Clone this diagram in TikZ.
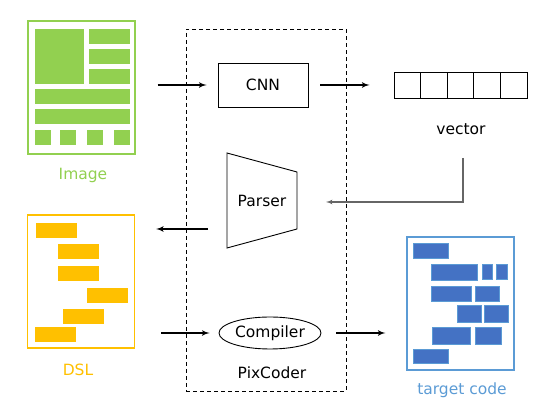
\documentclass[tikz,border=0pt]{standalone}
\usepackage{fontspec}
\setmainfont{DejaVu Sans}
\usetikzlibrary{arrows, shapes.geometric}
\definecolor{imggreen}{HTML}{92D050}
\definecolor{dslyellow}{HTML}{FFC000}
\definecolor{codeblue}{HTML}{4472C4}
\definecolor{codeframe}{HTML}{5B9BD5}

\begin{document}
\begin{tikzpicture}[x=1pt, y=-1pt, >=latex', font=\fontsize{15.5}{18}\selectfont]
  \tikzstyle{frame} = [draw, rectangle, line width=1.1pt, minimum width=107pt, minimum height=133pt, inner sep=0pt]
  \tikzstyle{block} = [draw, rectangle, line width=0.9pt, minimum width=90pt, minimum height=44pt]
  \tikzstyle{cell} = [draw, rectangle, line width=1pt, minimum width=26.6pt, minimum height=26pt, inner sep=0pt]
  \tikzstyle{codebar} = [fill=codeblue, draw=codeframe, line width=1pt]
  \tikzstyle{arr} = [->, line width=1.6pt]
  \tikzstyle{garr} = [->, line width=1.2pt, gray!80!black]
  \useasboundingbox (0,0) rectangle (542,411);

  % input screenshot
  \node [frame, draw=imggreen] (img) at (81.5,87.5) {};
  \foreach \xa/\ya/\xb/\yb in {35/29/84/84, 89/29/130/44, 89/49/130/64, 89/69/130/84,
      35/89/130/104, 35/109/130/124, 35/130/51/145, 60/130/76/145, 87/130/103/145, 114/130/130/145}
    \fill [imggreen] (\xa,\ya) rectangle (\xb,\yb);
  \node [text=imggreen] (imglabel) at (83,175) {Image};

  % dsl file
  \node [frame, draw=dslyellow] (dsl) at (81,281.5) {};
  \foreach \xa/\ya in {36/223, 58/244, 58/266, 87/288, 63/309, 35/327}
    \fill [dslyellow] (\xa,\ya) rectangle ++(41,15);
  \node [text=dslyellow] (dsllabel) at (78,370) {DSL};

  % generated code
  \node [frame, draw=codeframe] (code) at (460.5,303.5) {};
  \foreach \xa/\ya/\xb/\yb in {413/244/448/259, 431/265/477/281, 482/265/492/280, 496/265/507/280,
      431/287/471/302, 475/287/499/302, 457/306/481/323, 484/306/508/323,
      432/328/470/345, 475/328/501/345, 413/350/448/364}
    \draw [codebar] (\xa,\ya) rectangle (\xb,\yb);
  \node [text=codeframe] (codelabel) at (462,390) {target code};

  % pixcoder
  \node [draw, dash pattern=on 4pt off 3pt, line width=0.8pt, minimum width=160pt, minimum height=362pt] (pix) at (266,210) {};
  \node (pixlabel) at (272,373) {PixCoder};
  \node [block] (cnn) at (263,85) {CNN};
  \node (parser) at (262,201) {Parser};
  \coordinate (parser-tl) at (227,153);
  \coordinate (parser-tr) at (297,172);
  \coordinate (parser-br) at (297,229);
  \coordinate (parser-bl) at (227,248);
  \coordinate (parser-r) at (297,202);
  \coordinate (parser-l) at (227,229);
  \draw [line width=0.9pt] (parser-tl) -- (parser-tr) -- (parser-br) -- (parser-bl) -- cycle;
  \node [draw, ellipse, line width=0.9pt, minimum width=102pt, minimum height=32pt, inner sep=0pt] (comp) at (270,333) {Compiler};

  % vector
  \foreach \i in {0,...,4}
    \node [cell] (v\i) at (407.3+26.6*\i,86) {};
  \node (veclabel) at (461,129) {vector};
  \coordinate (vecout) at (463,158);

  \draw [arr, shorten <=22pt, shorten >=11pt] (img.east |- cnn) -- (cnn);
  \draw [arr, shorten <=12pt, shorten >=24pt] (cnn) -- (cnn -| v0.west);
  \draw [garr, shorten >=29pt] (vecout) |- (parser-r);
  \draw [arr, shorten <=19pt, shorten >=21pt] (parser-l) -- (parser-l -| dsl.east);
  \draw [arr, shorten <=26pt, shorten >=9pt] (dsl.east |- comp) -- (comp);
  \draw [arr, shorten <=15pt, shorten >=21pt] (comp) -- (comp -| code.west);
\end{tikzpicture}
\end{document}
